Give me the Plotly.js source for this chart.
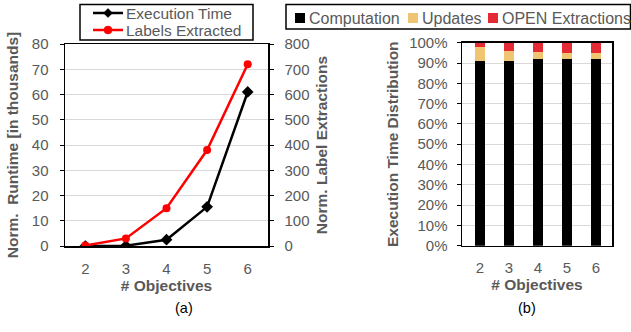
<!DOCTYPE html>
<html><head><meta charset="utf-8">
<script src="https://cdn.plot.ly/plotly-3.0.1.min.js"></script>
<style>html,body{margin:0;padding:0;background:#fff}#chart{width:631px;height:332px}</style>
</head><body><div id="chart"></div>
<script>
const objectives = [2, 3, 4, 5, 6];
const executionTime = [0, 0.1, 2.5, 15.5, 61];      // thousands
const labelsExtracted = [2, 30, 150, 380, 720];
const computation = [90.8, 90.8, 92.1, 91.8, 91.9];
const updates = [6.9, 5.1, 3.3, 3.3, 2.8];
const openExtractions = [2.3, 4.1, 4.6, 4.9, 5.3];
const lineNames = ['Execution Time', 'Labels Extracted'];
const barNames = ['Computation', 'Updates', 'OPEN Extractions'];

const W = 631, H = 332;
const px = v => v / W, py = v => 1 - v / H;
const gray = '#595959';
const fam = 'Liberation Sans, Arial, sans-serif';
const fnt = {family: fam, size: 15, color: gray};
const tfnt = {family: fam, size: 15.5, color: gray, weight: 'bold'};
const lineColors = ['#000000', '#ff0000'];
const barColors = ['#000000', '#F0C571', '#E42A35'];

const traces = [
  {x: objectives, y: executionTime, name: lineNames[0], type: 'scatter', mode: 'lines+markers',
   line: {color: lineColors[0], width: 2.5}, marker: {symbol: 'diamond', size: 9, color: lineColors[0]},
   xaxis: 'x', yaxis: 'y', showlegend: false},
  {x: objectives, y: labelsExtracted, name: lineNames[1], type: 'scatter', mode: 'lines+markers',
   line: {color: lineColors[1], width: 2.5}, marker: {symbol: 'circle', size: 8, color: lineColors[1]},
   xaxis: 'x', yaxis: 'y2', showlegend: false},
  {x: objectives, y: computation, name: barNames[0], type: 'bar', marker: {color: barColors[0]},
   width: 0.35, xaxis: 'x2', yaxis: 'y3', showlegend: false},
  {x: objectives, y: updates, name: barNames[1], type: 'bar', marker: {color: barColors[1]},
   width: 0.35, xaxis: 'x2', yaxis: 'y3', showlegend: false},
  {x: objectives, y: openExtractions, name: barNames[2], type: 'bar', marker: {color: barColors[2]},
   width: 0.35, xaxis: 'x2', yaxis: 'y3', showlegend: false}
];

// hand-built legends (to match the compact boxes of the original)
const shapes = [];
const annotations = [];
// legend (a)
shapes.push({type: 'rect', xref: 'paper', yref: 'paper', x0: px(80), x1: px(253), y0: py(40), y1: py(4.5),
  line: {color: '#000', width: 1.5}, fillcolor: '#fff', layer: 'above'});
const rowY = [13, 30];
lineNames.forEach((n, i) => {
  shapes.push({type: 'line', xref: 'paper', yref: 'paper', x0: px(93), x1: px(123), y0: py(rowY[i]), y1: py(rowY[i]),
    line: {color: lineColors[i], width: 2.5}, layer: 'above'});
  if (i === 0) {
    const cx = 108, cy = rowY[i], r = 4.5;
    shapes.push({type: 'path', xref: 'paper', yref: 'paper',
      path: `M${px(cx - r)},${py(cy)} L${px(cx)},${py(cy - r)} L${px(cx + r)},${py(cy)} L${px(cx)},${py(cy + r)} Z`,
      fillcolor: lineColors[i], line: {color: lineColors[i], width: 0.5}, layer: 'above'});
  } else {
    const cx = 108, cy = rowY[i], r = 4;
    shapes.push({type: 'circle', xref: 'paper', yref: 'paper', x0: px(cx - r), x1: px(cx + r), y0: py(cy + r), y1: py(cy - r),
      fillcolor: lineColors[i], line: {color: lineColors[i], width: 0.5}, layer: 'above'});
  }
  annotations.push({text: n, xref: 'paper', yref: 'paper', x: px(123.5), y: py(rowY[i] + 0.5),
    xanchor: 'left', yanchor: 'middle', showarrow: false, font: {family: fam, size: 15.5, color: gray}});
});
// legend (b)
shapes.push({type: 'rect', xref: 'paper', yref: 'paper', x0: px(286), x1: px(630.5), y0: py(29), y1: py(4.5),
  line: {color: '#000', width: 1.5}, fillcolor: '#fff', layer: 'above'});
const sqX = [295, 408, 488];
barNames.forEach((n, i) => {
  shapes.push({type: 'rect', xref: 'paper', yref: 'paper', x0: px(sqX[i]), x1: px(sqX[i] + 10), y0: py(23), y1: py(13),
    fillcolor: barColors[i], line: {width: 0}, layer: 'above'});
  annotations.push({text: n, xref: 'paper', yref: 'paper', x: px(sqX[i] + 12), y: py(18.5),
    xanchor: 'left', yanchor: 'middle', showarrow: false, font: {family: fam, size: 16, color: gray}});
});
annotations.push({text: '(a)', x: px(173), y: py(318), xref: 'paper', yref: 'paper', showarrow: false,
  font: {family: fam, size: 14.5, color: '#000'}});
annotations.push({text: '(b)', x: px(538), y: py(318), xref: 'paper', yref: 'paper', showarrow: false,
  font: {family: fam, size: 14.5, color: '#000'}});

const layout = {
  width: W, height: H,
  margin: {l: 0, r: 0, t: 0, b: 0, autoexpand: false},
  paper_bgcolor: '#fff', plot_bgcolor: 'rgba(0,0,0,0)',
  font: fnt,
  barmode: 'stack',
  showlegend: false,
  xaxis: {domain: [px(65), px(268)], range: [1.5, 6.5], anchor: 'y', automargin: false,
    tickvals: objectives, showgrid: false, zeroline: false,
    showline: true, linecolor: '#000', linewidth: 1.5, mirror: true,
    ticks: 'outside', ticklen: 8, tickcolor: 'rgba(0,0,0,0)', tickfont: fnt,
    title: {text: '# Objectives', font: tfnt, standoff: 4}},
  yaxis: {domain: [1 - 246/H, 1 - 44/H], range: [0, 80], dtick: 10, anchor: 'x', automargin: false,
    showgrid: true, gridcolor: '#d9d9d9', zeroline: false,
    showline: true, linecolor: '#000', linewidth: 1.5,
    ticks: 'outside', ticklen: 4, tickcolor: '#000', tickfont: fnt, ticklabelstandoff: 8,
    title: {text: 'Norm.\u00a0\u00a0Runtime [in thousands]', font: tfnt, standoff: 9}},
  yaxis2: {overlaying: 'y', side: 'right', anchor: 'x', range: [0, 800], dtick: 100, automargin: false,
    showgrid: false, zeroline: false, showline: true, linecolor: '#000', linewidth: 1.5,
    ticks: 'outside', ticklen: 4, tickcolor: '#000', tickfont: fnt, ticklabelstandoff: 8,
    title: {text: 'Norm. Label Extractions', font: tfnt, standoff: 7}},
  xaxis2: {domain: [px(462), px(612)], range: [1.38, 6.55], anchor: 'y3', automargin: false,
    tickvals: objectives, showgrid: false, zeroline: false,
    showline: true, linecolor: '#000', linewidth: 1.5, mirror: true,
    ticks: 'outside', ticklen: 8, tickcolor: 'rgba(0,0,0,0)', tickfont: fnt,
    title: {text: '# Objectives', font: tfnt, standoff: 4}},
  yaxis3: {domain: [1 - 245.7/H, 1 - 42.7/H], range: [0, 100], dtick: 10, anchor: 'x2', automargin: false,
    ticksuffix: '%', showgrid: true, gridcolor: '#d9d9d9', zeroline: false,
    showline: true, linecolor: '#000', linewidth: 1.5, mirror: true,
    ticks: 'outside', ticklen: 4, tickcolor: '#000', tickfont: fnt, ticklabelstandoff: 6,
    title: {text: 'Execution Time Distribution', font: tfnt, standoff: 6}},
  shapes: shapes,
  annotations: annotations
};

Plotly.newPlot('chart', traces, layout, {displayModeBar: false, staticPlot: true});
</script></body></html>
